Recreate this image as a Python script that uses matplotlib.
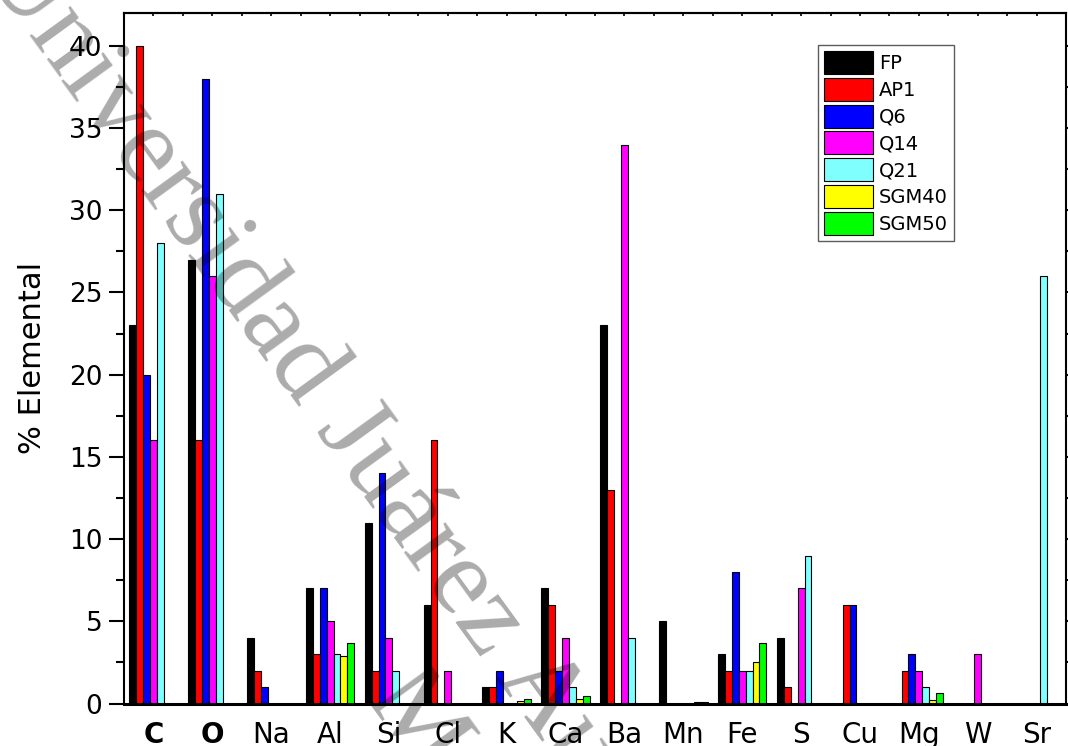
import matplotlib
matplotlib.use("Agg")
import matplotlib.pyplot as plt
import numpy as np
from matplotlib.ticker import MultipleLocator, FixedLocator

elements = ["C", "O", "Na", "Al", "Si", "Cl", "K", "Ca", "Ba", "Mn", "Fe", "S", "Cu", "Mg", "W", "Sr"]
series_names = ["FP", "AP1", "Q6", "Q14", "Q21", "SGM40", "SGM50"]
colors = ["#000000", "#FF0000", "#0000FF", "#FF00FF", "#80FFFF", "#FFFF00", "#00FF00"]

FP    = [23, 27, 4, 7, 11, 6, 1, 7, 23, 5, 3, 4, 0, 0, 0, 0]
AP1   = [40, 16, 2, 3, 2, 16, 1, 6, 13, 0, 2, 1, 6, 2, 0, 0]
Q6    = [20, 38, 1, 7, 14, 0, 2, 2, 0, 0, 8, 0, 6, 3, 0, 0]
Q14   = [16, 26, 0, 5, 4, 2, 0, 4, 34, 0, 2, 7, 0, 2, 3, 0]
Q21   = [28, 31, 0, 3, 2, 0, 0, 1, 4, 0, 2, 9, 0, 1, 0, 26]
SGM40 = [0, 0, 0, 2.9, 0, 0, 0.15, 0.3, 0, 0.1, 2.5, 0, 0, 0.2, 0, 0]
SGM50 = [0, 0, 0, 3.7, 0, 0, 0.25, 0.45, 0, 0.1, 3.65, 0, 0, 0.65, 0, 0]
series = [FP, AP1, Q6, Q14, Q21, SGM40, SGM50]

W, H = 1068, 746
fig = plt.figure(figsize=(W / 100, H / 100), dpi=100)
ax = fig.add_axes([124 / W, 1 - 703.5 / H, (1066 - 124) / W, (703.5 - 13) / H])

x = np.arange(len(elements))
bw = 0.1174
for k, (name, vals, col) in enumerate(zip(series_names, series, colors)):
    ax.bar(x + (k - 3) * bw, vals, width=bw, color=col, edgecolor="black",
           linewidth=0.8, label=name, zorder=2)

ax.set_xlim(-0.5, 15.5)
ax.set_ylim(0, 42)

ax.yaxis.set_major_locator(MultipleLocator(5))
ax.yaxis.set_minor_locator(MultipleLocator(2.5))
ax.tick_params(axis="y", which="major", direction="out", length=10.5, width=1.5,
               labelsize=19, pad=5)
ax.tick_params(axis="y", which="minor", direction="out", length=6, width=1.5)
ax.tick_params(axis="y", which="both", right=True, labelright=False)

ax.set_xticks(x)
ax.set_xticklabels(elements)
ax.tick_params(axis="x", which="both", bottom=False, top=False, labelsize=20, pad=9)
for lbl in ax.get_xticklabels():
    if lbl.get_text() in ("C", "O"):
        lbl.set_fontweight("bold")

# top axis with small inward ticks
sec = ax.secondary_xaxis("top")
sec.set_xticks(x)
sec.xaxis.set_minor_locator(FixedLocator(x[:-1] + 0.5))
sec.tick_params(axis="x", which="both", direction="in", length=2.5, width=1.2, labeltop=False)
sec.set_xticklabels([])
sec.spines["top"].set_linewidth(1.5)

for s in ["left", "right", "top"]:
    ax.spines[s].set_linewidth(1.5)
ax.spines["bottom"].set_linewidth(2.2)

ax.set_ylabel("% Elemental", fontsize=22, labelpad=16)

leg = ax.legend(loc="upper left", bbox_to_anchor=(818 / W, 1 - 45 / H),
                bbox_transform=fig.transFigure, fontsize=14, frameon=True,
                fancybox=False, borderaxespad=0, handlelength=2.52,
                handleheight=1.44, labelspacing=0.2, handletextpad=0.31,
                borderpad=0.3)
leg.get_frame().set_edgecolor("#333333")
leg.get_frame().set_linewidth(1.0)

# watermark
fig.text(42 / W, 1 - (-77) / H, "Universidad Juárez Autónoma de Tabasco",
         family="Liberation Serif", fontsize=80, color="black", alpha=0.33,
         rotation=-54, rotation_mode="anchor", ha="left", va="top", zorder=10)
fig.text(425 / W, 1 - 655 / H, "México",
         family="Liberation Serif", fontsize=80, color="black", alpha=0.33,
         rotation=-54, rotation_mode="anchor", ha="left", va="top", zorder=10)

fig.savefig("out.png", dpi=100)
